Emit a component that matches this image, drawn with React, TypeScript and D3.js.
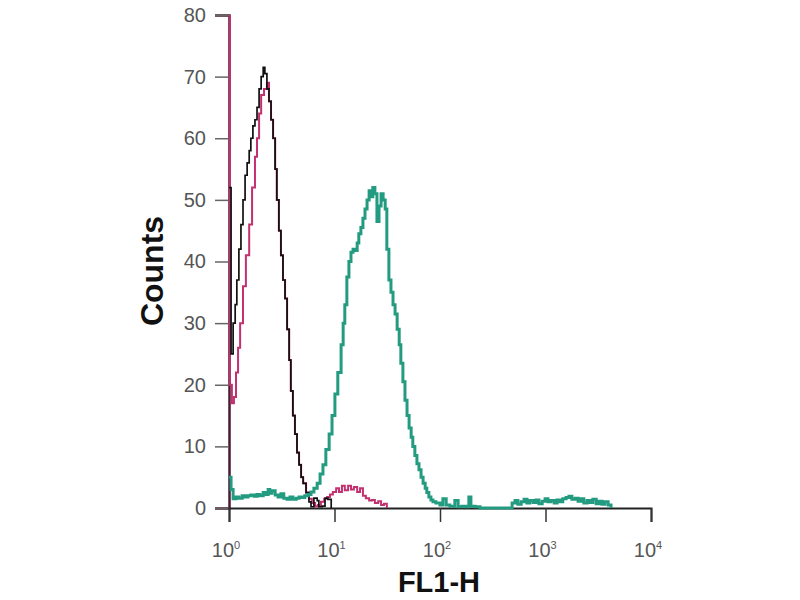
import { useEffect, useRef } from 'react';
import * as d3 from 'd3';

// FL1-H histogram, 1024 channels over 4 decades (FL = 10^(ch/256))
const CHANNELS_PER_DECADE = 256;

// isotype control (black)
const blackChannels = [0, 5, 10, 15, 19, 24, 29, 34, 39, 44, 49, 53, 58, 63, 68, 73, 78, 83, 87, 92, 97, 102, 107, 112, 116, 121, 126, 131, 136, 141, 146, 150, 155, 160, 165, 170, 175, 180, 187, 194, 199, 206, 214, 218, 226, 233, 240, 248];
const blackCounts = [52, 25, 30, 33, 37, 42, 46, 50, 54, 56, 58, 60, 62, 63, 65, 68, 70, 71.5, 70.5, 68, 66, 63, 60, 55, 50, 45, 41, 37, 34, 29, 24, 19, 15, 12, 9, 7, 5, 4, 2.5, 1, 0.2, 1.6, 1.2, 0.2, 0.3, 1.6, 1.4, 0];

// unstained / blocked (magenta)
const magentaChannels = [0, 2, 7, 12, 17, 22, 27, 34, 41, 49, 56, 63, 68, 73, 78, 85, 92, 97, 102, 107, 112, 116, 121, 126, 131, 136, 141, 146, 150, 155, 160, 165, 170, 175, 180, 187, 194, 201, 209, 216, 223, 231, 238, 245, 252, 260, 267, 274, 281, 289, 296, 303, 311, 318, 325, 332, 340, 347, 354, 362, 369, 376, 383];
const magentaCounts = [90, 20, 17, 18, 22, 26, 30, 36, 41, 46, 52, 57, 60, 64, 67, 68, 69, 66, 63, 60, 55, 50, 45, 41, 37, 34, 29, 24, 19, 15, 12, 9, 7, 5, 4, 2.5, 1.5, 0.8, 0.3, 0.5, 1, 1.5, 1.8, 2.2, 2.6, 3.2, 2.6, 3.6, 2.9, 3.6, 3.0, 3.4, 2.6, 3.2, 2.0, 1.6, 1.2, 1.3, 0.8, 1.1, 0.5, 0.7, 0];

// antibody stained (teal)
const tealChannels = [0, 5, 10, 17, 24, 32, 39, 46, 53, 61, 68, 75, 83, 90, 95, 99, 104, 112, 119, 126, 133, 141, 148, 155, 163, 170, 177, 184, 192, 199, 206, 214, 221, 228, 235, 243, 250, 257, 264, 272, 277, 281, 286, 291, 296, 301, 306, 311, 315, 320, 325, 330, 335, 340, 345, 349, 354, 359, 364, 369, 374, 379, 383, 388, 393, 398, 403, 408, 413, 417, 422, 427, 432, 437, 442, 446, 451, 456, 461, 466, 471, 476, 480, 485, 490, 495, 502, 512, 519, 527, 536, 548, 556, 565, 575, 582, 587, 597, 609, 677, 687, 694, 701, 709, 716, 723, 730, 738, 745, 752, 760, 767, 774, 781, 789, 796, 803, 810, 818, 825, 832, 840, 847, 854, 861, 869, 876, 883, 891, 898, 905, 912, 920, 927];
const tealCounts = [5, 3, 1.5, 1.8, 1.6, 2.0, 1.8, 2.0, 2.1, 1.9, 2.2, 2.0, 2.5, 2.2, 3.0, 2.4, 2.8, 2.1, 1.8, 2.3, 1.6, 1.4, 1.8, 1.4, 1.6, 1.8, 1.7, 2.0, 2.2, 2.6, 3.2, 4.0, 5.5, 7, 9.5, 12, 15, 18.5, 22, 26.5, 30, 33, 37.5, 40, 41.5, 42, 41.8, 43, 44.5, 45.5, 47, 48.5, 50, 51.5, 50.5, 52, 51, 46.5, 49, 51, 50, 48.5, 42, 37, 35, 33, 31.5, 29, 26.5, 23.5, 20.5, 17.5, 15, 13, 11.5, 10, 8.5, 7.2, 6.2, 5, 4, 3.2, 2.5, 1.8, 1.3, 1.0, 0.8, 0.5, 1.5, 0.5, 0.3, 1.2, 0.2, 0.3, 0.2, 1.8, 0.3, 0.2, 0, 0, 0.8, 1.2, 0.6, 1.0, 1.4, 0.8, 1.2, 0.9, 1.3, 0.7, 1.1, 1.5, 1.0, 1.2, 0.8, 1.3, 1.0, 1.5, 1.7, 1.9, 1.4, 1.6, 1.1, 1.5, 0.8, 1.2, 0.9, 1.4, 0.7, 1.1, 0.6, 1.0, 0.5, 0];

const yTicks = [0, 10, 20, 30, 40, 50, 60, 70, 80];
const xTickExponents = [0, 1, 2, 3, 4];

const series = [
  { name: 'magenta', channels: magentaChannels, counts: magentaCounts, color: '#c2306f', width: 2 },
  { name: 'black', channels: blackChannels, counts: blackCounts, color: '#111111', width: 1.7 },
  { name: 'teal', channels: tealChannels, counts: tealCounts, color: '#239b80', width: 3 },
];

const W = 800;
const H = 600;
const margin = { left: 229, right: 149, top: 15, bottom: 92 };

export default function App() {
  const ref = useRef<SVGSVGElement>(null);

  useEffect(() => {
    if (!ref.current) return;
    const svg = d3.select(ref.current);
    svg.selectAll('*').remove();

    const x = d3.scaleLog().domain([1, 1e4]).range([margin.left, W - margin.right]);
    const y = d3.scaleLinear().domain([0, 80]).range([H - margin.bottom, margin.top]);

    svg.append('defs')
      .append('clipPath')
      .attr('id', 'plot-clip')
      .append('rect')
      .attr('x', margin.left - 2)
      .attr('y', margin.top)
      .attr('width', W - margin.left - margin.right + 4)
      .attr('height', H - margin.top - margin.bottom + 2);

    // y axis
    const yAxis = svg.append('g')
      .attr('transform', `translate(${margin.left},0)`)
      .call(d3.axisLeft(y).tickValues(yTicks).tickSize(14).tickPadding(9));
    yAxis.select('.domain').attr('stroke', '#4a1a32').attr('stroke-width', 2.5);
    yAxis.selectAll('.tick line').attr('stroke', '#666').attr('stroke-width', 1.5);
    yAxis.selectAll('.tick text')
      .attr('fill', '#555')
      .attr('font-size', 20)
      .attr('font-family', '"Liberation Sans", Arial, sans-serif');

    // x axis
    const xAxis = svg.append('g')
      .attr('transform', `translate(0,${H - margin.bottom})`)
      .call(
        d3.axisBottom(x)
          .tickValues(xTickExponents.map((e) => Math.pow(10, e)))
          .tickSize(14)
          .tickFormat(() => '')
      );
    xAxis.select('.domain').attr('stroke', '#222').attr('stroke-width', 2);
    xAxis.selectAll('.tick line').attr('stroke', '#333').attr('stroke-width', 1.5);

    const labels = svg.append('g')
      .attr('font-family', '"Liberation Sans", Arial, sans-serif')
      .attr('fill', '#555');
    xTickExponents.forEach((e) => {
      const t = labels.append('text')
        .attr('x', x(Math.pow(10, e)) - 3)
        .attr('y', H - margin.bottom + 49)
        .attr('text-anchor', 'middle')
        .attr('font-size', 20);
      t.append('tspan').text('10');
      t.append('tspan').attr('dy', -8).attr('font-size', 11).text(String(e));
    });

    // histograms
    const line = d3.line<[number, number]>()
      .x((d) => x(Math.pow(10, d[0] / CHANNELS_PER_DECADE)))
      .y((d) => y(d[1]))
      .curve(d3.curveStepAfter);

    const plot = svg.append('g').attr('clip-path', 'url(#plot-clip)');
    series.forEach((s) => {
      const pts = s.channels.map((c, i) => [c, s.counts[i]] as [number, number]);
      plot.append('path')
        .attr('d', line(pts))
        .attr('fill', 'none')
        .attr('stroke', s.color)
        .attr('stroke-width', s.width)
        .attr('stroke-linejoin', 'miter');
    });

    // axis titles
    svg.append('text')
      .attr('transform', 'translate(163,271) rotate(-90)')
      .attr('text-anchor', 'middle')
      .attr('font-family', '"Liberation Sans", Arial, sans-serif')
      .attr('font-weight', 'bold')
      .attr('font-size', 32)
      .attr('fill', '#111')
      .text('Counts');

    svg.append('text')
      .attr('x', x(100) - 1)
      .attr('y', 592)
      .attr('text-anchor', 'middle')
      .attr('font-family', '"Liberation Sans", Arial, sans-serif')
      .attr('font-weight', 'bold')
      .attr('font-size', 29)
      .attr('fill', '#111')
      .text('FL1-H');
  }, []);

  return (
    <svg
      ref={ref}
      width={W}
      height={H}
      style={{ position: 'absolute', left: 0, top: 0, background: '#fff' }}
    />
  );
}
